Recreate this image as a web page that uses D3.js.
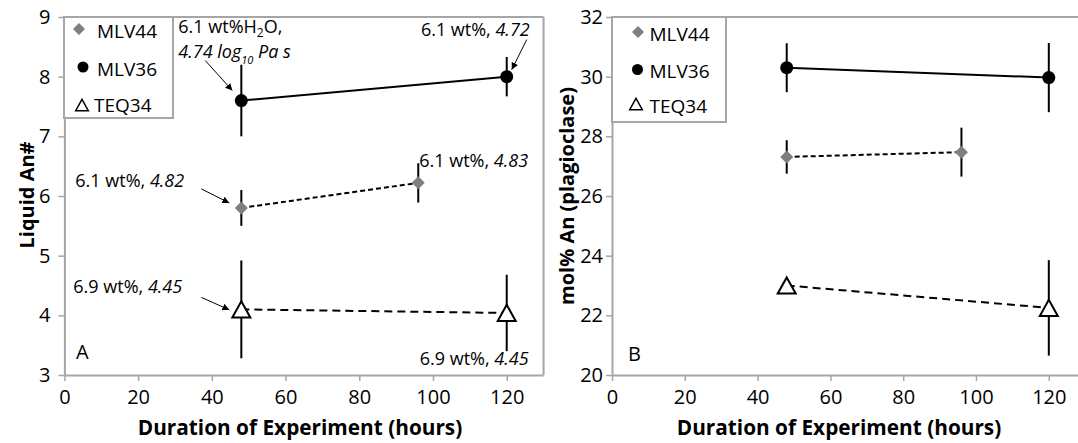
<!DOCTYPE html>
<html><head><meta charset="utf-8">
<script src="https://cdn.jsdelivr.net/npm/d3@7"></script>
<style>html,body{margin:0;padding:0;background:#fff}svg{display:block}</style>
</head><body><svg id="c" width="1078" height="443"></svg>
<script>
// ---------------- data ----------------
const seriesNames = ["MLV44", "MLV36", "TEQ34"];
const hoursMLV44 = [48, 96];
const hoursMLV36 = [48, 120];
const hoursTEQ34 = [48, 120];
// Panel A: liquid An#
const liqAnMLV44 = [5.8, 6.22];
const liqAnMLV44Err = [0.3, 0.33];
const liqAnMLV36 = [7.6, 8.0];
const liqAnMLV36Err = [0.6, 0.33];
const liqAnTEQ34 = [4.1, 4.04];
const liqAnTEQ34Err = [0.82, 0.64];
// Panel B: mol% An (plagioclase)
const plagAnMLV44 = [27.31, 27.47];
const plagAnMLV44Err = [0.56, 0.82];
const plagAnMLV36 = [30.3, 29.97];
const plagAnMLV36Err = [0.82, 1.16];
const plagAnTEQ34 = [23.0, 22.25];
const plagAnTEQ34Err = [0.2, 1.6];
// ticks
const hourTicks = [0, 20, 40, 60, 80, 100, 120];
const liqAnTicks = [3, 4, 5, 6, 7, 8, 9];
const plagAnTicks = [20, 22, 24, 26, 28, 30, 32];
const xTitle = "Duration of Experiment (hours)";

// ---------------- style ----------------
const FONT = "'Open Sans', 'Noto Sans', sans-serif";
const AXIS_GRAY = "#a6a6a6";
const DIAMOND_GRAY = "#7f7f7f";

const svg = d3.select("#c");
svg.append("rect").attr("width", 1078).attr("height", 443).attr("fill", "#fff");
const defs = svg.append("defs");
defs.append("marker").attr("id", "arrow").attr("viewBox", "0 0 10 10")
  .attr("refX", 10).attr("refY", 5).attr("markerWidth", 7).attr("markerHeight", 7)
  .attr("markerUnits", "userSpaceOnUse").attr("orient", "auto")
  .append("path").attr("d", "M0,0 L10,5 L0,10 Z").attr("fill", "#000");

function symbolPath(kind, size) {
  if (kind === "diamond") { const s = size; return `M0,${-s}L${s},0L0,${s}L${-s},0Z`; }
  if (kind === "triangle") { const w = size, h = size * 0.9; return `M0,${-h}L${w},${h}L${-w},${h}Z`; }
  return null;
}
function drawMarker(g, kind, cx, cy, big) {
  if (kind === "circle") {
    g.append("circle").attr("cx", cx).attr("cy", cy).attr("r", big ? 6.5 : 5.5).attr("fill", "#000");
  } else if (kind === "diamond") {
    g.append("path").attr("d", symbolPath("diamond", big ? 6.5 : 6)).attr("transform", `translate(${cx},${cy})`)
      .attr("fill", DIAMOND_GRAY);
  } else {
    g.append("path").attr("d", symbolPath("triangle", big ? 9 : 6.3)).attr("transform", `translate(${cx},${cy})`)
      .attr("fill", "#fff").attr("stroke", "#000").attr("stroke-width", big ? 2 : 1.5).attr("stroke-linejoin", "miter");
  }
}

function drawPanel(cfg) {
  const g = svg.append("g");
  const x = d3.scaleLinear().domain([0, 130]).range([cfg.left, cfg.left + 130 * cfg.pxPerHour]);
  const y = d3.scaleLinear().domain(cfg.yDomain).range([cfg.bottom, cfg.top]);
  const xRight = Math.min(x(130), 1078);

  // frame: top + (optional) right border
  g.append("line").attr("x1", cfg.left).attr("x2", cfg.rightBorder ? xRight : 1078)
    .attr("y1", cfg.top).attr("y2", cfg.top).attr("stroke", AXIS_GRAY).attr("stroke-width", 2);
  if (cfg.rightBorder) {
    g.append("line").attr("x1", xRight).attr("x2", xRight).attr("y1", cfg.top).attr("y2", cfg.bottom)
      .attr("stroke", AXIS_GRAY).attr("stroke-width", 2);
  }

  // axes
  const ax = g.append("g").attr("transform", `translate(0,${cfg.bottom})`)
    .call(d3.axisBottom(x).tickValues(hourTicks).tickFormat(d3.format("d"))
      .tickSize(6).tickSizeOuter(0).tickPadding(9));
  ax.select(".domain").attr("d", `M${cfg.left},0.5H${cfg.rightBorder ? xRight : 1078}`);
  const ay = g.append("g").attr("transform", `translate(${cfg.left},0)`)
    .call(d3.axisLeft(y).tickValues(cfg.yTicks).tickFormat(d3.format("d"))
      .tickSize(6).tickSizeOuter(0).tickPadding(cfg.yPad));
  [ax, ay].forEach(a => {
    a.select(".domain").attr("stroke", AXIS_GRAY).attr("stroke-width", 2);
    a.selectAll(".tick line").attr("stroke", AXIS_GRAY).attr("stroke-width", 1.5);
    a.selectAll(".tick text").attr("fill", "#000").style("font-family", FONT).style("font-size", "20px");
  });

  // axis titles
  g.append("text").attr("x", cfg.xTitleX).attr("y", 435).attr("text-anchor", "middle")
    .style("font-family", FONT).style("font-size", "20.8px").style("font-weight", "bold").text(xTitle);
  g.append("text").attr("transform", `translate(${cfg.yTitleX},${cfg.yTitleY}) rotate(-90)`)
    .attr("text-anchor", "middle").style("font-family", FONT).style("font-size", "20px")
    .style("font-weight", "bold").text(cfg.yTitle);

  // series
  const kinds = { MLV44: "diamond", MLV36: "circle", TEQ34: "triangle" };
  const dashes = { MLV44: "5,3", MLV36: null, TEQ34: "8,5" };
  const line = d3.line().x(d => x(d.h)).y(d => y(d.v));
  const seriesData = cfg.series.map(s => ({
    name: s.name, pts: s.hours.map((h, i) => ({ h, v: s.vals[i], e: s.errs[i] }))
  }));
  seriesData.forEach(s => {
    g.append("path").attr("d", line(s.pts)).attr("fill", "none").attr("stroke", "#000")
      .attr("stroke-width", 2).attr("stroke-dasharray", dashes[s.name]);
  });
  seriesData.forEach(s => {
    s.pts.forEach(p => {
      g.append("line").attr("x1", x(p.h)).attr("x2", x(p.h)).attr("y1", y(p.v - p.e)).attr("y2", y(p.v + p.e))
        .attr("stroke", "#000").attr("stroke-width", 2);
    });
  });
  seriesData.forEach(s => {
    s.pts.forEach(p => drawMarker(g, kinds[s.name], x(p.h), y(p.v), true));
  });

  // legend
  const L = cfg.legend;
  g.append("rect").attr("x", L.x).attr("y", L.y).attr("width", L.w).attr("height", L.h)
    .attr("fill", "#fff").attr("stroke", AXIS_GRAY).attr("stroke-width", 2);
  seriesNames.forEach((n, i) => {
    drawMarker(g, kinds[n], L.markerX[i], L.markerY[i], false);
    g.append("text").attr("x", L.textX[i]).attr("y", L.textY[i]).style("font-family", FONT)
      .style("font-size", "19px").text(n);
  });

  // panel letter
  g.append("text").attr("x", cfg.letterX).attr("y", cfg.letterY).style("font-family", FONT)
    .style("font-size", "20px").text(cfg.letter);

  return { g, x, y };
}

const A = drawPanel({
  left: 64.4, pxPerHour: 3.686, top: 17, bottom: 375, yDomain: [3, 9], yTicks: liqAnTicks, yPad: 8,
  rightBorder: true, xTitleX: 300, yTitle: "Liquid An#", yTitleX: 34, yTitleY: 195,
  series: [
    { name: "MLV44", hours: hoursMLV44, vals: liqAnMLV44, errs: liqAnMLV44Err },
    { name: "MLV36", hours: hoursMLV36, vals: liqAnMLV36, errs: liqAnMLV36Err },
    { name: "TEQ34", hours: hoursTEQ34, vals: liqAnTEQ34, errs: liqAnTEQ34Err }
  ],
  legend: { x: 64, y: 17, w: 109, h: 101, markerX: [79, 83, 82], markerY: [29, 67, 105],
            textX: [97, 97, 94], textY: [38, 76, 112] },
  letter: "A", letterX: 76, letterY: 359
});

const B = drawPanel({
  left: 612, pxPerHour: 3.64, top: 17, bottom: 375, yDomain: [20, 32], yTicks: plagAnTicks, yPad: 3,
  rightBorder: false, xTitleX: 839, yTitle: "mol% An (plagioclase)", yTitleX: 574, yTitleY: 196,
  series: [
    { name: "MLV44", hours: hoursMLV44, vals: plagAnMLV44, errs: plagAnMLV44Err },
    { name: "MLV36", hours: hoursMLV36, vals: plagAnMLV36, errs: plagAnMLV36Err },
    { name: "TEQ34", hours: hoursTEQ34, vals: plagAnTEQ34, errs: plagAnTEQ34Err }
  ],
  legend: { x: 612, y: 17, w: 114, h: 105, markerX: [638, 637.5, 636], markerY: [32, 69.5, 104],
            textX: [649.5, 649.5, 649.5], textY: [41, 78, 113] },
  letter: "B", letterX: 628, letterY: 361
});

// ---------------- annotations (panel A), anchored to data points ----------------
const annFont = "18px";
function addAnno(anchorH, anchorV, build, arrow) {
  const px = A.x(anchorH), py = A.y(anchorV);
  build(A.g, px, py);
  if (arrow) {
    A.g.append("line").attr("x1", px + arrow[0]).attr("y1", py + arrow[1])
      .attr("x2", px + arrow[2]).attr("y2", py + arrow[3])
      .attr("stroke", "#000").attr("stroke-width", 1).attr("marker-end", "url(#arrow)");
  }
}
function txt(g, x, y, anchor) {
  return g.append("text").attr("x", x).attr("y", y).attr("text-anchor", anchor || "start")
    .style("font-family", FONT).style("font-size", annFont);
}
function wtText(g, x, y, pre, it, anchor) {
  const t = txt(g, x, y, anchor);
  t.append("tspan").text(pre);
  t.append("tspan").style("font-style", "italic").text(it);
}

// MLV36 @48 h
addAnno(hoursMLV36[0], liqAnMLV36[0], (g, px, py) => {
  const t1 = txt(g, px - 63, py - 68);
  t1.append("tspan").text("6.1 wt%H");
  t1.append("tspan").attr("dy", 4).style("font-size", "12px").text("2");
  t1.append("tspan").attr("dy", -4).text("O,");
  const t2 = txt(g, px - 63, py - 43).style("font-style", "italic");
  t2.append("tspan").text("4.74 log");
  t2.append("tspan").attr("dy", 6).style("font-size", "11px").text("10");
  t2.append("tspan").attr("dy", -6).text(" Pa s");
}, [-36, -40, -9, -10]);
// MLV36 @120 h
addAnno(hoursMLV36[1], liqAnMLV36[1], (g, px, py) => {
  wtText(g, px + 23, py - 41, "6.1 wt%, ", "4.72", "end");
}, [20, -37, 5, -7]);
// MLV44 @96 h
addAnno(hoursMLV44[1], liqAnMLV44[1], (g, px, py) => {
  wtText(g, px + 1, py - 16, "6.1 wt%, ", "4.83");
}, null);
// MLV44 @48 h
addAnno(hoursMLV44[0], liqAnMLV44[0], (g, px, py) => {
  wtText(g, px - 166, py - 21, "6.1 wt%, ", "4.82");
}, [-40, -19, -12, -5]);
// TEQ34 @48 h
addAnno(hoursTEQ34[0], liqAnTEQ34[0], (g, px, py) => {
  wtText(g, px - 168, py - 16, "6.9 wt%, ", "4.45");
}, [-40, -12, -12, 0.5]);
// TEQ34 @120 h
addAnno(hoursTEQ34[1], liqAnTEQ34[1], (g, px, py) => {
  wtText(g, px - 87, py + 52, "6.9 wt%, ", "4.45");
}, null);
</script></body></html>
